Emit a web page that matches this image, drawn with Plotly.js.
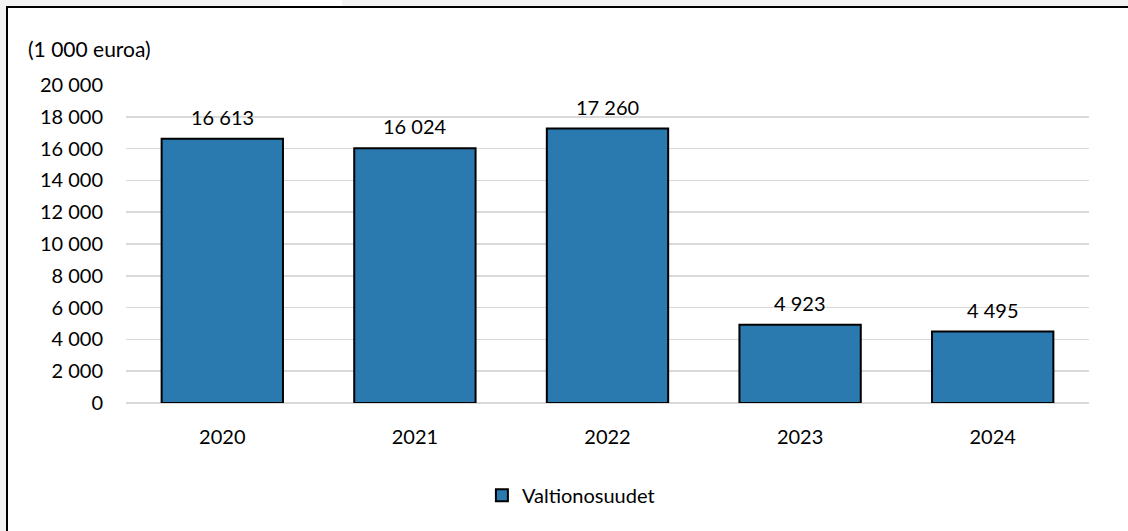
<!DOCTYPE html>
<html><head><meta charset="utf-8">
<script src="https://cdn.plot.ly/plotly-3.0.1.min.js"></script>
<style>
html,body{margin:0;padding:0;background:#f3f3f3;width:1128px;height:531px;overflow:hidden;}
#patch{position:absolute;left:280px;top:0;width:62px;height:6px;background:#fff;}
#frame{position:absolute;left:6px;top:6px;width:1122px;height:525px;border-left:2px solid #000;border-top:2px solid #000;background:#fff;}
#chart{position:absolute;left:0;top:0;width:1122px;height:525px;}
</style></head><body>
<div id="patch"></div>
<div id="frame"><div id="chart"></div></div>
<script>
const categories = ['2020','2021','2022','2023','2024'];
const values = [16613, 16024, 17260, 4923, 4495];
const seriesName = 'Valtionosuudet';
const unitLabel = '(1 000 euroa)';
const tickVals = [0,2000,4000,6000,8000,10000,12000,14000,16000,18000,20000];

function fmt(n){ return String(n).replace(/\B(?=(\d{3})+(?!\d))/g,' '); }
const FONT = 'Lato, "Open Sans", sans-serif';
const FS = 20;

const trace = {
  type:'bar', x:categories, y:values, name:seriesName,
  marker:{color:'#2a7ab0', line:{color:'#000', width:2}},
  showlegend:true, hoverinfo:'none'
};
const ann = categories.map((c,i)=>({
  x:i, y:values[i], xref:'x', yref:'y', text:fmt(values[i]),
  showarrow:false, yanchor:'bottom', yshift:8, font:{family:FONT,size:FS,color:'#000'}
}));
ann.push({xref:'paper', yref:'paper', x:-0.1035, y:1.115, xanchor:'left', yanchor:'middle',
  text:unitLabel, showarrow:false, font:{family:FONT,size:21,color:'#000'}});

const layout = {
  width:1122, height:525,
  margin:{l:118, r:41, t:77, b:130},
  paper_bgcolor:'rgba(0,0,0,0)', plot_bgcolor:'#fff',
  separators:', ',
  font:{family:FONT, size:FS, color:'#000'},
  xaxis:{type:'category', range:[-0.5,4.5], showgrid:false, zeroline:false, showline:false, ticks:'', ticklabelstandoff:20, tickfont:{family:FONT,size:FS}},
  yaxis:{range:[0,20000], tickvals:tickVals, ticktext:tickVals.map(fmt), showgrid:true, gridcolor:'#d9d9d9', gridwidth:1.5,
    zeroline:true, zerolinecolor:'#d9d9d9', zerolinewidth:1.5, showline:false, ticks:'', ticklabelstandoff:22, tickfont:{family:FONT,size:FS}},
  legend:{orientation:'h', x:0.462, xanchor:'center', y:-0.29, yanchor:'middle', font:{family:FONT,size:FS}},
  annotations:ann, bargap:0.37
};
Plotly.newPlot('chart',[trace],layout,{displayModeBar:false, staticPlot:true});
</script></body></html>
